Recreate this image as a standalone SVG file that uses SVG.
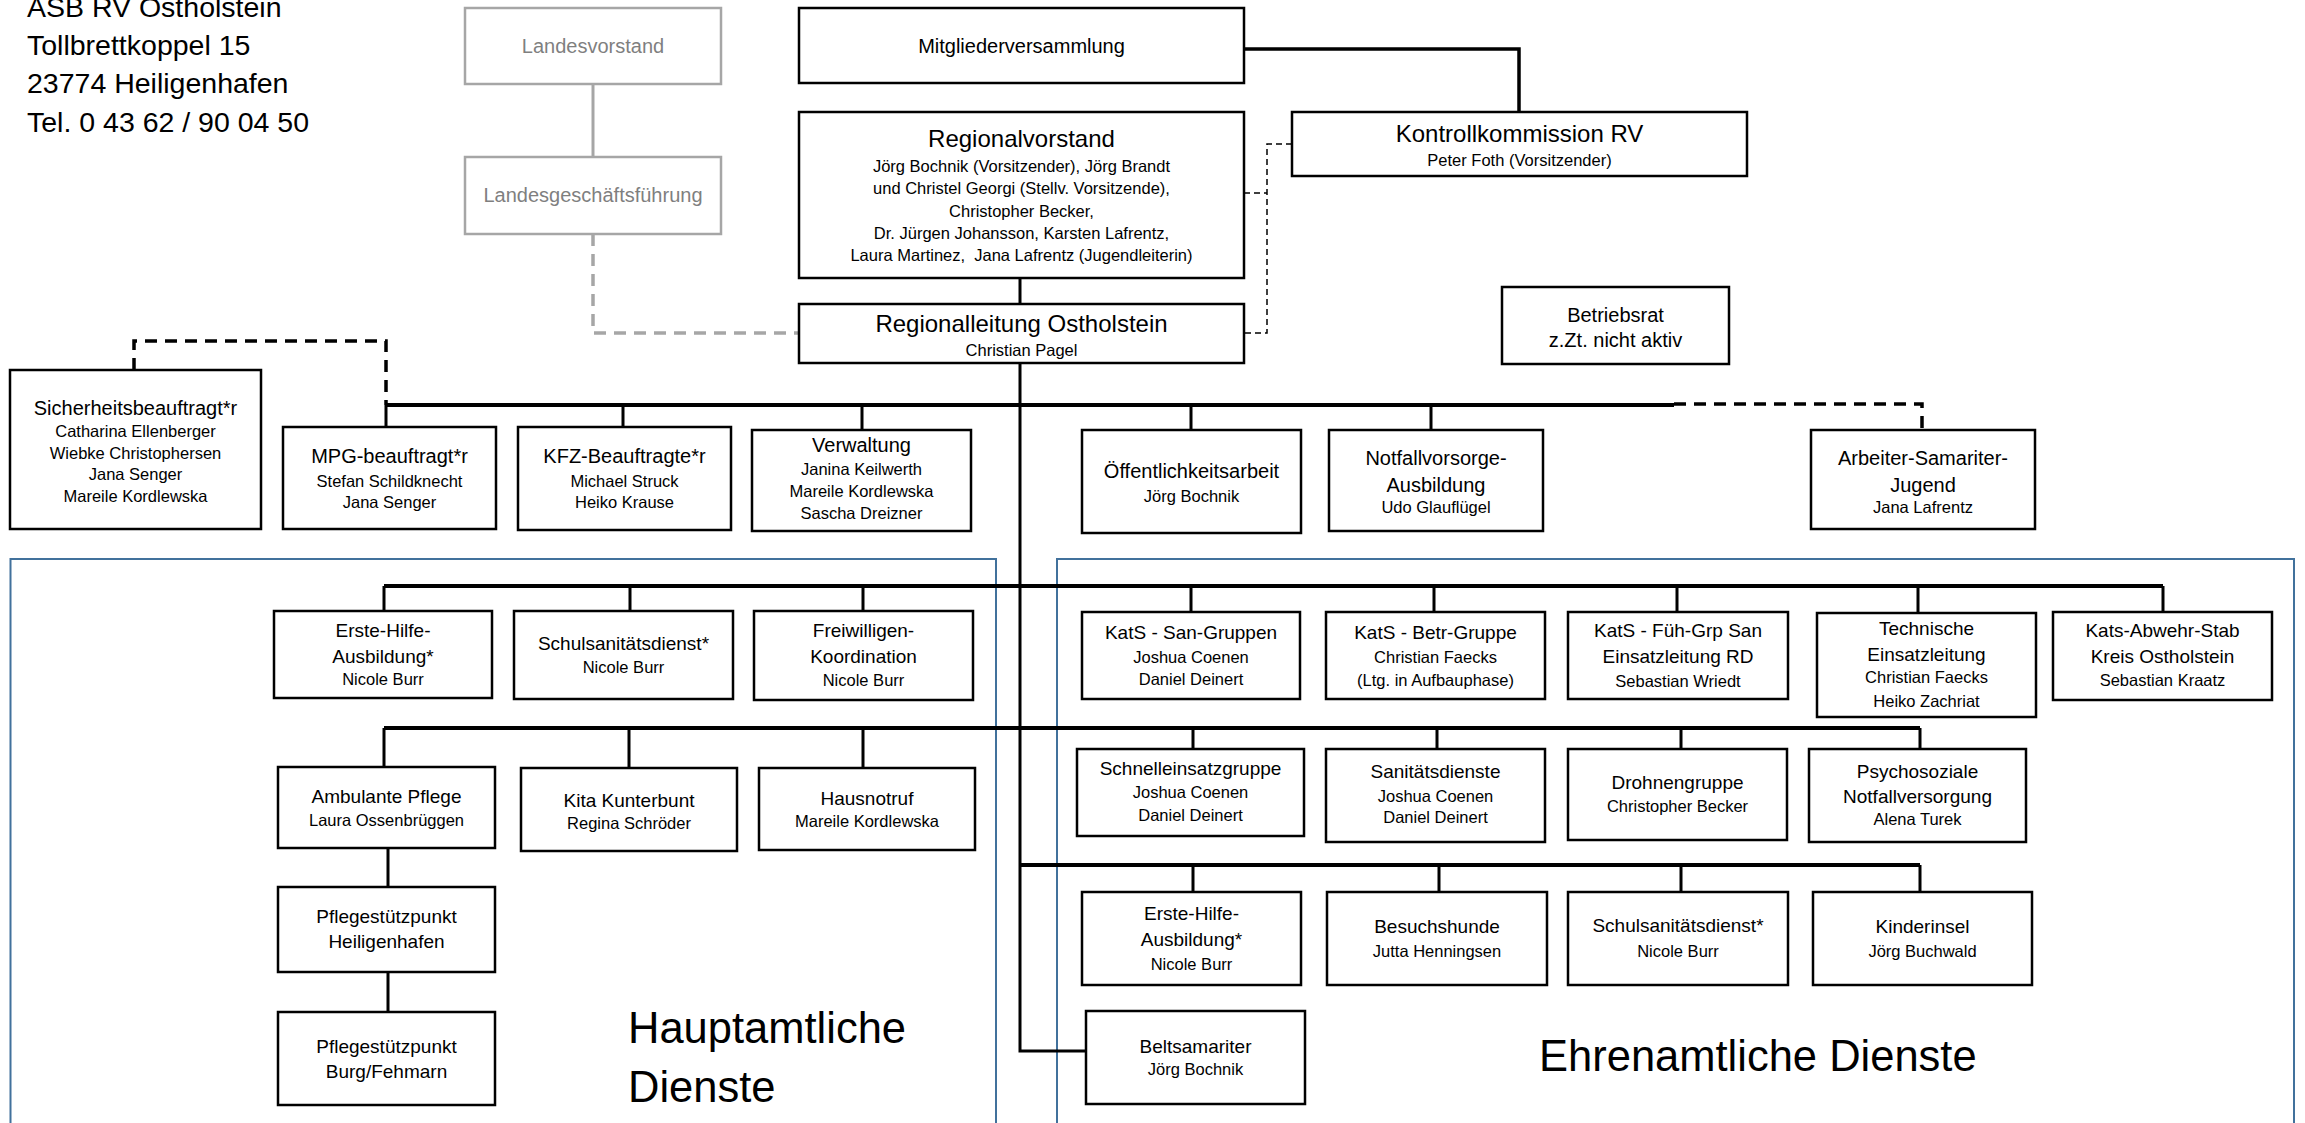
<svg xmlns="http://www.w3.org/2000/svg" width="2305" height="1123" viewBox="0 0 2305 1123">
<style>
text{font-family:"Liberation Sans",Arial,sans-serif;fill:#000;text-anchor:middle}
.box{fill:#fff;stroke:#000;stroke-width:2.5}
.gbox{fill:#fff;stroke:#a6a6a6;stroke-width:2.5}
.hdr{font-size:28.5px;text-anchor:start}
.big{font-size:24px}
.t{font-size:20px}
.t2{font-size:19px}
.n{font-size:16.5px}
.g{fill:#7f7f7f}
.sec{font-size:43.5px;text-anchor:start}
.ln{fill:none;stroke:#000;stroke-width:3}
.bus{fill:none;stroke:#000;stroke-width:4}
.dsh{fill:none;stroke:#000;stroke-width:3.5;stroke-dasharray:12 8}
.thin{fill:none;stroke:#000;stroke-width:1.5;stroke-dasharray:6 4}
.gl{fill:none;stroke:#a6a6a6;stroke-width:3}
.gd{fill:none;stroke:#a6a6a6;stroke-width:3.5;stroke-dasharray:12 8}
.area{fill:none;stroke:#41719c;stroke-width:2}
</style>

<g id="areas">
<path class="area" d="M10.5,1130 V559 H996 V1130"/>
<path class="area" d="M1057,1130 V559 H2294 V1130"/>
</g>

<g id="address">
<text class="hdr" x="27" y="17">ASB RV Ostholstein</text>
<text class="hdr" x="27" y="55">Tollbrettkoppel 15</text>
<text class="hdr" x="27" y="93">23774 Heiligenhafen</text>
<text class="hdr" x="27" y="132">Tel. 0 43 62 / 90 04 50</text>
</g>

<g id="connectors">
<path class="gl" d="M593,84 V157"/>
<path class="gd" d="M593,234 V333 H799"/>
<path class="ln" d="M1244,49 H1519 V112" style="stroke-width:3.5"/>
<path class="thin" d="M1292,144 H1267 V333 H1244 M1244,193 H1267"/>
<path class="ln" d="M1020,278 V304"/>
<path class="ln" d="M1020,363 V1051 H1086"/>
<path class="dsh" d="M134,370 V341 H386 V405"/>
<path class="bus" d="M386,405 H1674"/>
<path class="dsh" d="M1674,404 H1922 V430"/>
<path class="ln" d="M386,405 V427 M623,405 V427 M862,405 V430 M1191,405 V430 M1431,405 V430"/>
<path class="bus" d="M384,586 H2163"/>
<path class="ln" d="M384,586 V611 M630,586 V611 M863,586 V611 M1191,586 V612 M1434,586 V612 M1677,586 V612 M1918,586 V613 M2163,586 V612"/>
<path class="bus" d="M384,728 H1920"/>
<path class="ln" d="M384,728 V767 M629,728 V768 M863,728 V768 M1193,728 V749 M1437,728 V749 M1681,728 V749 M1920,728 V749"/>
<path class="ln" d="M388,848 V887 M388,972 V1012"/>
<path class="bus" d="M1020,865 H1920"/>
<path class="ln" d="M1193,865 V892 M1439,865 V892 M1681,865 V892 M1920,865 V892"/>
</g>

<g id="landesvorstand">
<rect class="gbox" x="465" y="8" width="256" height="76"/>
<text class="t g" x="593" y="53">Landesvorstand</text>
</g>
<g id="landesgeschaeftsfuehrung">
<rect class="gbox" x="465" y="157" width="256" height="77"/>
<text class="t g" x="593" y="202">Landesgeschäftsführung</text>
</g>
<g id="mitgliederversammlung">
<rect class="box" x="799" y="8" width="445" height="75"/>
<text class="t" x="1021.5" y="53">Mitgliederversammlung</text>
</g>
<g id="regionalvorstand">
<rect class="box" x="799" y="112" width="445" height="166"/>
<text class="big" x="1021.5" y="147">Regionalvorstand</text>
<text class="n" x="1021.5" y="172">Jörg Bochnik (Vorsitzender), Jörg Brandt</text>
<text class="n" x="1021.5" y="194">und Christel Georgi (Stellv. Vorsitzende),</text>
<text class="n" x="1021.5" y="217">Christopher Becker,</text>
<text class="n" x="1021.5" y="239">Dr. Jürgen Johansson, Karsten Lafrentz,</text>
<text class="n" x="1021.5" y="261" xml:space="preserve">Laura Martinez,  Jana Lafrentz (Jugendleiterin)</text>
</g>
<g id="kontrollkommission">
<rect class="box" x="1292" y="112" width="455" height="64"/>
<text class="big" x="1519.5" y="142">Kontrollkommission RV</text>
<text class="n" x="1519.5" y="166">Peter Foth (Vorsitzender)</text>
</g>
<g id="regionalleitung">
<rect class="box" x="799" y="304" width="445" height="59"/>
<text class="big" x="1021.5" y="332">Regionalleitung Ostholstein</text>
<text class="n" x="1021.5" y="356">Christian Pagel</text>
</g>
<g id="betriebsrat">
<rect class="box" x="1502" y="287" width="227" height="77"/>
<text class="t" x="1615.5" y="322">Betriebsrat</text>
<text class="t" x="1615.5" y="347">z.Zt. nicht aktiv</text>
</g>

<g id="sicherheitsbeauftragt">
<rect class="box" x="10" y="370" width="251" height="159"/>
<text class="t" x="135.5" y="415">Sicherheitsbeauftragt*r</text>
<text class="n" x="135.5" y="437">Catharina Ellenberger</text>
<text class="n" x="135.5" y="458.5">Wiebke Christophersen</text>
<text class="n" x="135.5" y="480">Jana Senger</text>
<text class="n" x="135.5" y="501.5">Mareile Kordlewska</text>
</g>
<g id="mpg">
<rect class="box" x="283" y="427" width="213" height="102"/>
<text class="t" x="389.5" y="463">MPG-beauftragt*r</text>
<text class="n" x="389.5" y="487">Stefan Schildknecht</text>
<text class="n" x="389.5" y="508">Jana Senger</text>
</g>
<g id="kfz">
<rect class="box" x="518" y="427" width="213" height="103"/>
<text class="t" x="624.5" y="463">KFZ-Beauftragte*r</text>
<text class="n" x="624.5" y="487">Michael Struck</text>
<text class="n" x="624.5" y="508">Heiko Krause</text>
</g>
<g id="verwaltung">
<rect class="box" x="752" y="430" width="219" height="101"/>
<text class="t" x="861.5" y="452">Verwaltung</text>
<text class="n" x="861.5" y="475">Janina Keilwerth</text>
<text class="n" x="861.5" y="497">Mareile Kordlewska</text>
<text class="n" x="861.5" y="519">Sascha Dreizner</text>
</g>
<g id="oeffentlichkeitsarbeit">
<rect class="box" x="1082" y="430" width="219" height="103"/>
<text class="t" x="1191.5" y="478">Öffentlichkeitsarbeit</text>
<text class="n" x="1191.5" y="502">Jörg Bochnik</text>
</g>
<g id="notfallvorsorge">
<rect class="box" x="1329" y="430" width="214" height="101"/>
<text class="t" x="1436" y="465">Notfallvorsorge-</text>
<text class="t" x="1436" y="492">Ausbildung</text>
<text class="n" x="1436" y="513">Udo Glauflügel</text>
</g>
<g id="asj">
<rect class="box" x="1811" y="430" width="224" height="99"/>
<text class="t" x="1923" y="465">Arbeiter-Samariter-</text>
<text class="t" x="1923" y="492">Jugend</text>
<text class="n" x="1923" y="513">Jana Lafrentz</text>
</g>

<g id="erste-hilfe-haupt">
<rect class="box" x="274" y="611" width="218" height="87"/>
<text class="t2" x="383" y="637">Erste-Hilfe-</text>
<text class="t2" x="383" y="663">Ausbildung*</text>
<text class="n" x="383" y="685">Nicole Burr</text>
</g>
<g id="schulsan-haupt">
<rect class="box" x="514" y="611" width="219" height="88"/>
<text class="t2" x="623.5" y="650">Schulsanitätsdienst*</text>
<text class="n" x="623.5" y="673">Nicole Burr</text>
</g>
<g id="freiwilligen">
<rect class="box" x="754" y="611" width="219" height="89"/>
<text class="t2" x="863.5" y="637">Freiwilligen-</text>
<text class="t2" x="863.5" y="663">Koordination</text>
<text class="n" x="863.5" y="686">Nicole Burr</text>
</g>
<g id="kats-san">
<rect class="box" x="1082" y="612" width="218" height="87"/>
<text class="t2" x="1191" y="639">KatS - San-Gruppen</text>
<text class="n" x="1191" y="663">Joshua Coenen</text>
<text class="n" x="1191" y="685">Daniel Deinert</text>
</g>
<g id="kats-betr">
<rect class="box" x="1326" y="612" width="219" height="87"/>
<text class="t2" x="1435.5" y="639">KatS - Betr-Gruppe</text>
<text class="n" x="1435.5" y="663">Christian Faecks</text>
<text class="n" x="1435.5" y="686">(Ltg. in Aufbauphase)</text>
</g>
<g id="kats-fueh">
<rect class="box" x="1568" y="612" width="220" height="87"/>
<text class="t2" x="1678" y="637">KatS - Füh-Grp San</text>
<text class="t2" x="1678" y="663">Einsatzleitung RD</text>
<text class="n" x="1678" y="687">Sebastian Wriedt</text>
</g>
<g id="technische-el">
<rect class="box" x="1817" y="613" width="219" height="104"/>
<text class="t2" x="1926.5" y="635">Technische</text>
<text class="t2" x="1926.5" y="661">Einsatzleitung</text>
<text class="n" x="1926.5" y="683">Christian Faecks</text>
<text class="n" x="1926.5" y="707">Heiko Zachriat</text>
</g>
<g id="kats-abwehr">
<rect class="box" x="2053" y="612" width="219" height="88"/>
<text class="t2" x="2162.5" y="637">Kats-Abwehr-Stab</text>
<text class="t2" x="2162.5" y="663">Kreis Ostholstein</text>
<text class="n" x="2162.5" y="686">Sebastian Kraatz</text>
</g>

<g id="ambulante-pflege">
<rect class="box" x="278" y="767" width="217" height="81"/>
<text class="t2" x="386.5" y="803">Ambulante Pflege</text>
<text class="n" x="386.5" y="826">Laura Ossenbrüggen</text>
</g>
<g id="kita">
<rect class="box" x="521" y="768" width="216" height="83"/>
<text class="t2" x="629" y="807">Kita Kunterbunt</text>
<text class="n" x="629" y="829">Regina Schröder</text>
</g>
<g id="hausnotruf">
<rect class="box" x="759" y="768" width="216" height="82"/>
<text class="t2" x="867" y="805">Hausnotruf</text>
<text class="n" x="867" y="827">Mareile Kordlewska</text>
</g>
<g id="schnelleinsatzgruppe">
<rect class="box" x="1077" y="749" width="227" height="87"/>
<text class="t2" x="1190.5" y="775">Schnelleinsatzgruppe</text>
<text class="n" x="1190.5" y="798">Joshua Coenen</text>
<text class="n" x="1190.5" y="821">Daniel Deinert</text>
</g>
<g id="sanitaetsdienste">
<rect class="box" x="1326" y="749" width="219" height="93"/>
<text class="t2" x="1435.5" y="778">Sanitätsdienste</text>
<text class="n" x="1435.5" y="802">Joshua Coenen</text>
<text class="n" x="1435.5" y="823">Daniel Deinert</text>
</g>
<g id="drohnengruppe">
<rect class="box" x="1568" y="749" width="219" height="91"/>
<text class="t2" x="1677.5" y="789">Drohnengruppe</text>
<text class="n" x="1677.5" y="812">Christopher Becker</text>
</g>
<g id="psnv">
<rect class="box" x="1809" y="749" width="217" height="93"/>
<text class="t2" x="1917.5" y="778">Psychosoziale</text>
<text class="t2" x="1917.5" y="803">Notfallversorgung</text>
<text class="n" x="1917.5" y="825">Alena Turek</text>
</g>

<g id="pflege-heiligenhafen">
<rect class="box" x="278" y="887" width="217" height="85"/>
<text class="t2" x="386.5" y="923">Pflegestützpunkt</text>
<text class="t2" x="386.5" y="948">Heiligenhafen</text>
</g>
<g id="pflege-burg">
<rect class="box" x="278" y="1012" width="217" height="93"/>
<text class="t2" x="386.5" y="1053">Pflegestützpunkt</text>
<text class="t2" x="386.5" y="1078">Burg/Fehmarn</text>
</g>
<g id="erste-hilfe-ehren">
<rect class="box" x="1082" y="892" width="219" height="93"/>
<text class="t2" x="1191.5" y="920">Erste-Hilfe-</text>
<text class="t2" x="1191.5" y="946">Ausbildung*</text>
<text class="n" x="1191.5" y="970">Nicole Burr</text>
</g>
<g id="besuchshunde">
<rect class="box" x="1327" y="892" width="220" height="93"/>
<text class="t2" x="1437" y="933">Besuchshunde</text>
<text class="n" x="1437" y="957">Jutta Henningsen</text>
</g>
<g id="schulsan-ehren">
<rect class="box" x="1568" y="892" width="220" height="93"/>
<text class="t2" x="1678" y="932">Schulsanitätsdienst*</text>
<text class="n" x="1678" y="957">Nicole Burr</text>
</g>
<g id="kinderinsel">
<rect class="box" x="1813" y="892" width="219" height="93"/>
<text class="t2" x="1922.5" y="933">Kinderinsel</text>
<text class="n" x="1922.5" y="957">Jörg Buchwald</text>
</g>
<g id="beltsamariter">
<rect class="box" x="1086" y="1011" width="219" height="93"/>
<text class="t2" x="1195.5" y="1053">Beltsamariter</text>
<text class="n" x="1195.5" y="1075">Jörg Bochnik</text>
</g>

<g id="labels">
<text class="sec" x="628" y="1043">Hauptamtliche</text>
<text class="sec" x="628" y="1102">Dienste</text>
<text class="sec" x="1539" y="1071">Ehrenamtliche Dienste</text>
</g>
</svg>
